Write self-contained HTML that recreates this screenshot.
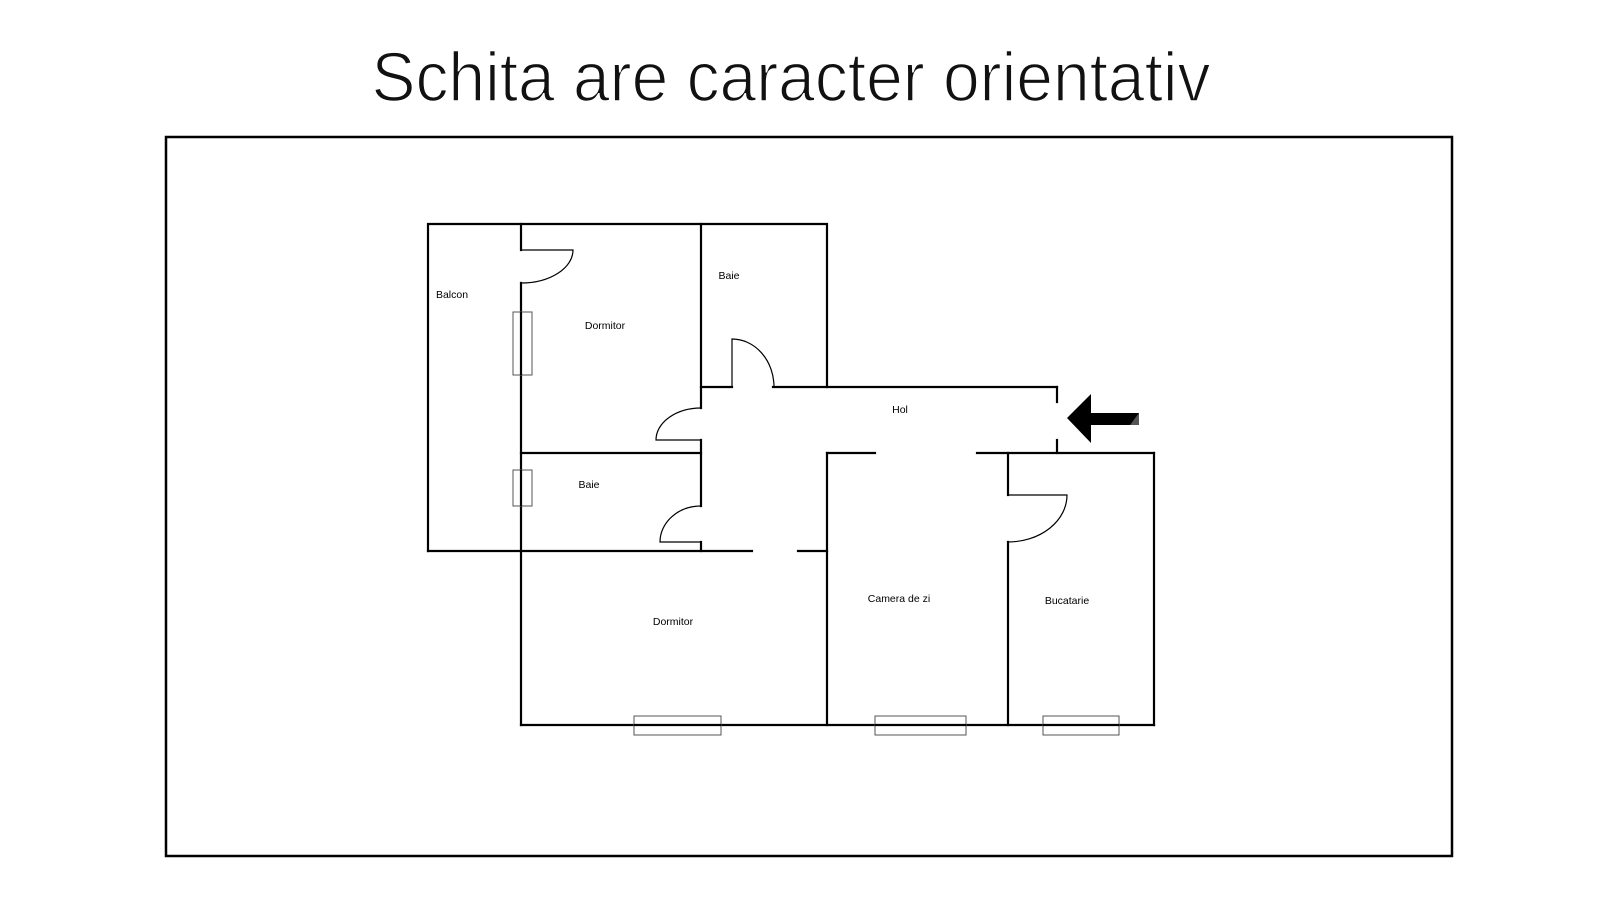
<!DOCTYPE html>
<html><head><meta charset="utf-8"><style>
html,body{margin:0;padding:0;background:#fff;width:1600px;height:900px;overflow:hidden}
</style></head><body>
<svg width="1600" height="900" viewBox="0 0 1600 900" xmlns="http://www.w3.org/2000/svg">
<text x="791" y="101" text-anchor="middle" font-family="Liberation Sans, sans-serif" font-size="70" fill="#111" stroke="#fff" stroke-width="1.6" paint-order="normal" textLength="839" lengthAdjust="spacingAndGlyphs">Schita are caracter orientativ</text>
<rect x="166" y="137" width="1292" height="723" fill="none" stroke="#000" stroke-width="0" />
<rect x="166" y="137" width="1286" height="719" fill="none" stroke="#000" stroke-width="2.5"/>
<g stroke="#000" stroke-width="2.2" fill="none" stroke-linecap="square">
<polyline points="428,551 428,224 827,224 827,387"/>
<line x1="521" y1="224" x2="521" y2="250"/>
<line x1="521" y1="283" x2="521" y2="725"/>
<line x1="701" y1="224" x2="701" y2="408"/>
<line x1="701" y1="440" x2="701" y2="506"/>
<line x1="701" y1="542" x2="701" y2="551"/>
<line x1="521" y1="453" x2="701" y2="453"/>
<line x1="701" y1="387" x2="732" y2="387"/>
<line x1="773" y1="387" x2="1057" y2="387"/>
<line x1="1057" y1="387" x2="1057" y2="402"/>
<line x1="1057" y1="440" x2="1057" y2="453"/>
<line x1="428" y1="551" x2="752" y2="551"/>
<line x1="798" y1="551" x2="827" y2="551"/>
<line x1="827" y1="453" x2="827" y2="725"/>
<line x1="827" y1="453" x2="875" y2="453"/>
<line x1="977" y1="453" x2="1154" y2="453"/>
<line x1="1008" y1="453" x2="1008" y2="495"/>
<line x1="1008" y1="542" x2="1008" y2="725"/>
<line x1="1154" y1="453" x2="1154" y2="725"/>
<line x1="521" y1="725" x2="1154" y2="725"/>
</g>
<g stroke="#000" stroke-width="1.2" fill="none">
<path d="M521,250 L573,250 A52,33 0 0 1 521,283"/>
<path d="M732,387 L732,339 A42,48 0 0 1 774,387"/>
<path d="M701,408 A45,32 0 0 0 656,440 L701,440"/>
<path d="M701,506 A41,36 0 0 0 660,542 L701,542"/>
<path d="M1008,495 L1067,495 A59,47 0 0 1 1008,542"/>
</g>
<g stroke="#555" stroke-width="1" fill="#fff">
<rect x="513" y="312" width="19" height="63"/>
<rect x="513" y="470" width="19" height="36"/>
<rect x="634" y="716" width="87" height="19"/>
<rect x="875" y="716" width="91" height="19"/>
<rect x="1043" y="716" width="76" height="19"/>
</g>
<g stroke="#000" stroke-width="2.2"><line x1="521" y1="312" x2="521" y2="375"/><line x1="521" y1="470" x2="521" y2="506"/><line x1="634" y1="725" x2="721" y2="725"/><line x1="875" y1="725" x2="966" y2="725"/><line x1="1043" y1="725" x2="1119" y2="725"/></g>
<polygon points="1067,418 1091,394 1091,413 1139,413 1139,425 1091,425 1091,443" fill="#000"/>
<polygon points="1130,425 1139,413 1139,425" fill="#555"/>
<g font-family="Liberation Sans, sans-serif" font-size="10.5" fill="#000" text-anchor="middle">
<text x="452" y="298">Balcon</text>
<text x="605" y="329">Dormitor</text>
<text x="729" y="279">Baie</text>
<text x="900" y="413">Hol</text>
<text x="589" y="488">Baie</text>
<text x="673" y="625">Dormitor</text>
<text x="899" y="602">Camera de zi</text>
<text x="1067" y="604">Bucatarie</text>
</g>
</svg>
</body></html>
